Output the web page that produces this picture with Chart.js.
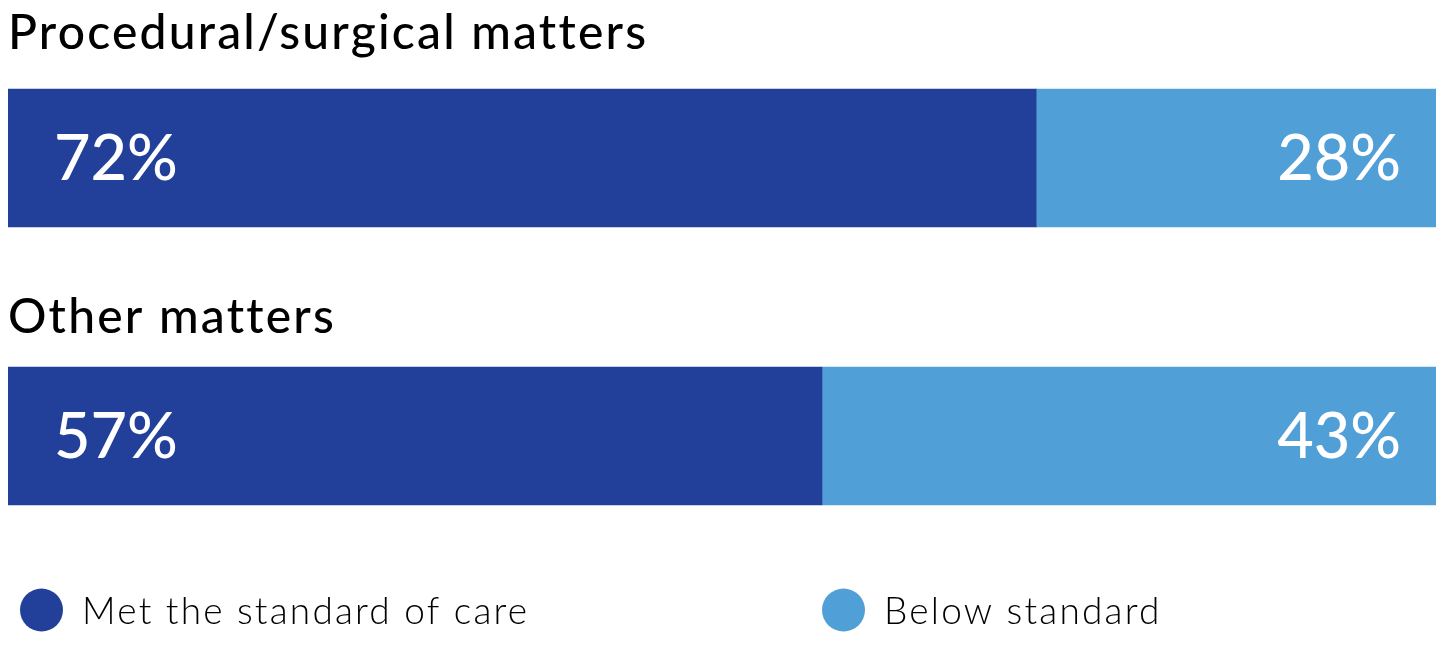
<!DOCTYPE html>
<html>
<head>
<meta charset="utf-8">
<script src="https://cdn.jsdelivr.net/npm/chart.js@4.4.1/dist/chart.umd.min.js"></script>
<style>
    html, body { margin: 0; padding: 0; background: #ffffff; }
    #wrap { position: relative; width: 1446px; height: 663px; }
</style>
</head>
<body>
<div id="wrap"><canvas id="careChart"></canvas></div>
<script>
// Dados do gráfico
const categories = ['Procedural/surgical matters', 'Other matters'];
const seriesNames = ['Met the standard of care', 'Below standard'];
const metValues = [72, 57];
const belowValues = [28, 43];
const seriesColors = ['#22409a', '#519fd7'];

// Titulos acima de cada barra, rótulos e legenda
const overlayPlugin = {
    id: 'overlay',
    afterDatasetsDraw(chart) {
        const ctx = chart.ctx;
        const area = chart.chartArea;
        const titleGap = [40, 34];

        ctx.save();
        // titulos das categorias
        ctx.fillStyle = '#000000';
        ctx.font = '500 48px Lato';
        ctx.letterSpacing = '2.2px';
        ctx.textAlign = 'left';
        ctx.textBaseline = 'alphabetic';
        chart.getDatasetMeta(0).data.forEach((bar, i) => {
            const top = bar.y - bar.height / 2;
            ctx.fillText(categories[i], area.left, top - titleGap[i]);
        });

        // valores dentro das barras
        ctx.fillStyle = '#ffffff';
        ctx.font = '500 63px Lato';
        ctx.letterSpacing = '0px';
        chart.getDatasetMeta(0).data.forEach((bar, i) => {
            ctx.textAlign = 'left';
            ctx.fillText(metValues[i] + '%', area.left + 46, bar.y + 22);
        });
        chart.getDatasetMeta(1).data.forEach((bar, i) => {
            ctx.textAlign = 'right';
            ctx.fillText(belowValues[i] + '%', bar.x - 35, bar.y + 22);
        });

        // legenda
        const legendX = [20, 822];
        const legendY = 610;
        ctx.font = '300 37px Lato';
        ctx.letterSpacing = '2.2px';
        ctx.textAlign = 'left';
        seriesNames.forEach((name, i) => {
            ctx.fillStyle = seriesColors[i];
            ctx.beginPath();
            ctx.arc(legendX[i] + 21.5, legendY, 21.5, 0, Math.PI * 2);
            ctx.fill();
            ctx.fillStyle = '#000000';
            ctx.fillText(name, legendX[i] + 62, legendY + 14);
        });
        ctx.restore();
    }
};

const ctx = document.getElementById('careChart').getContext('2d');

const careChart = new Chart(ctx, {
    type: 'bar',
    data: {
        labels: categories,
        datasets: [
            {
                label: seriesNames[0],
                data: metValues,
                backgroundColor: seriesColors[0],
                borderWidth: 0,
                barThickness: 138
            },
            {
                label: seriesNames[1],
                data: belowValues,
                backgroundColor: seriesColors[1],
                borderWidth: 0,
                barThickness: 138
            }
        ]
    },
    options: {
        indexAxis: 'y',
        responsive: true,
        maintainAspectRatio: false,
        animation: false,
        layout: {
            padding: { left: 8, right: 10, top: 19, bottom: 88 }
        },
        plugins: {
            legend: { display: false },
            tooltip: { enabled: false }
        },
        scales: {
            x: {
                stacked: true,
                min: 0,
                max: 100,
                display: false
            },
            y: {
                stacked: true,
                display: false
            }
        }
    },
    plugins: [overlayPlugin]
});
</script>
</body>
</html>
